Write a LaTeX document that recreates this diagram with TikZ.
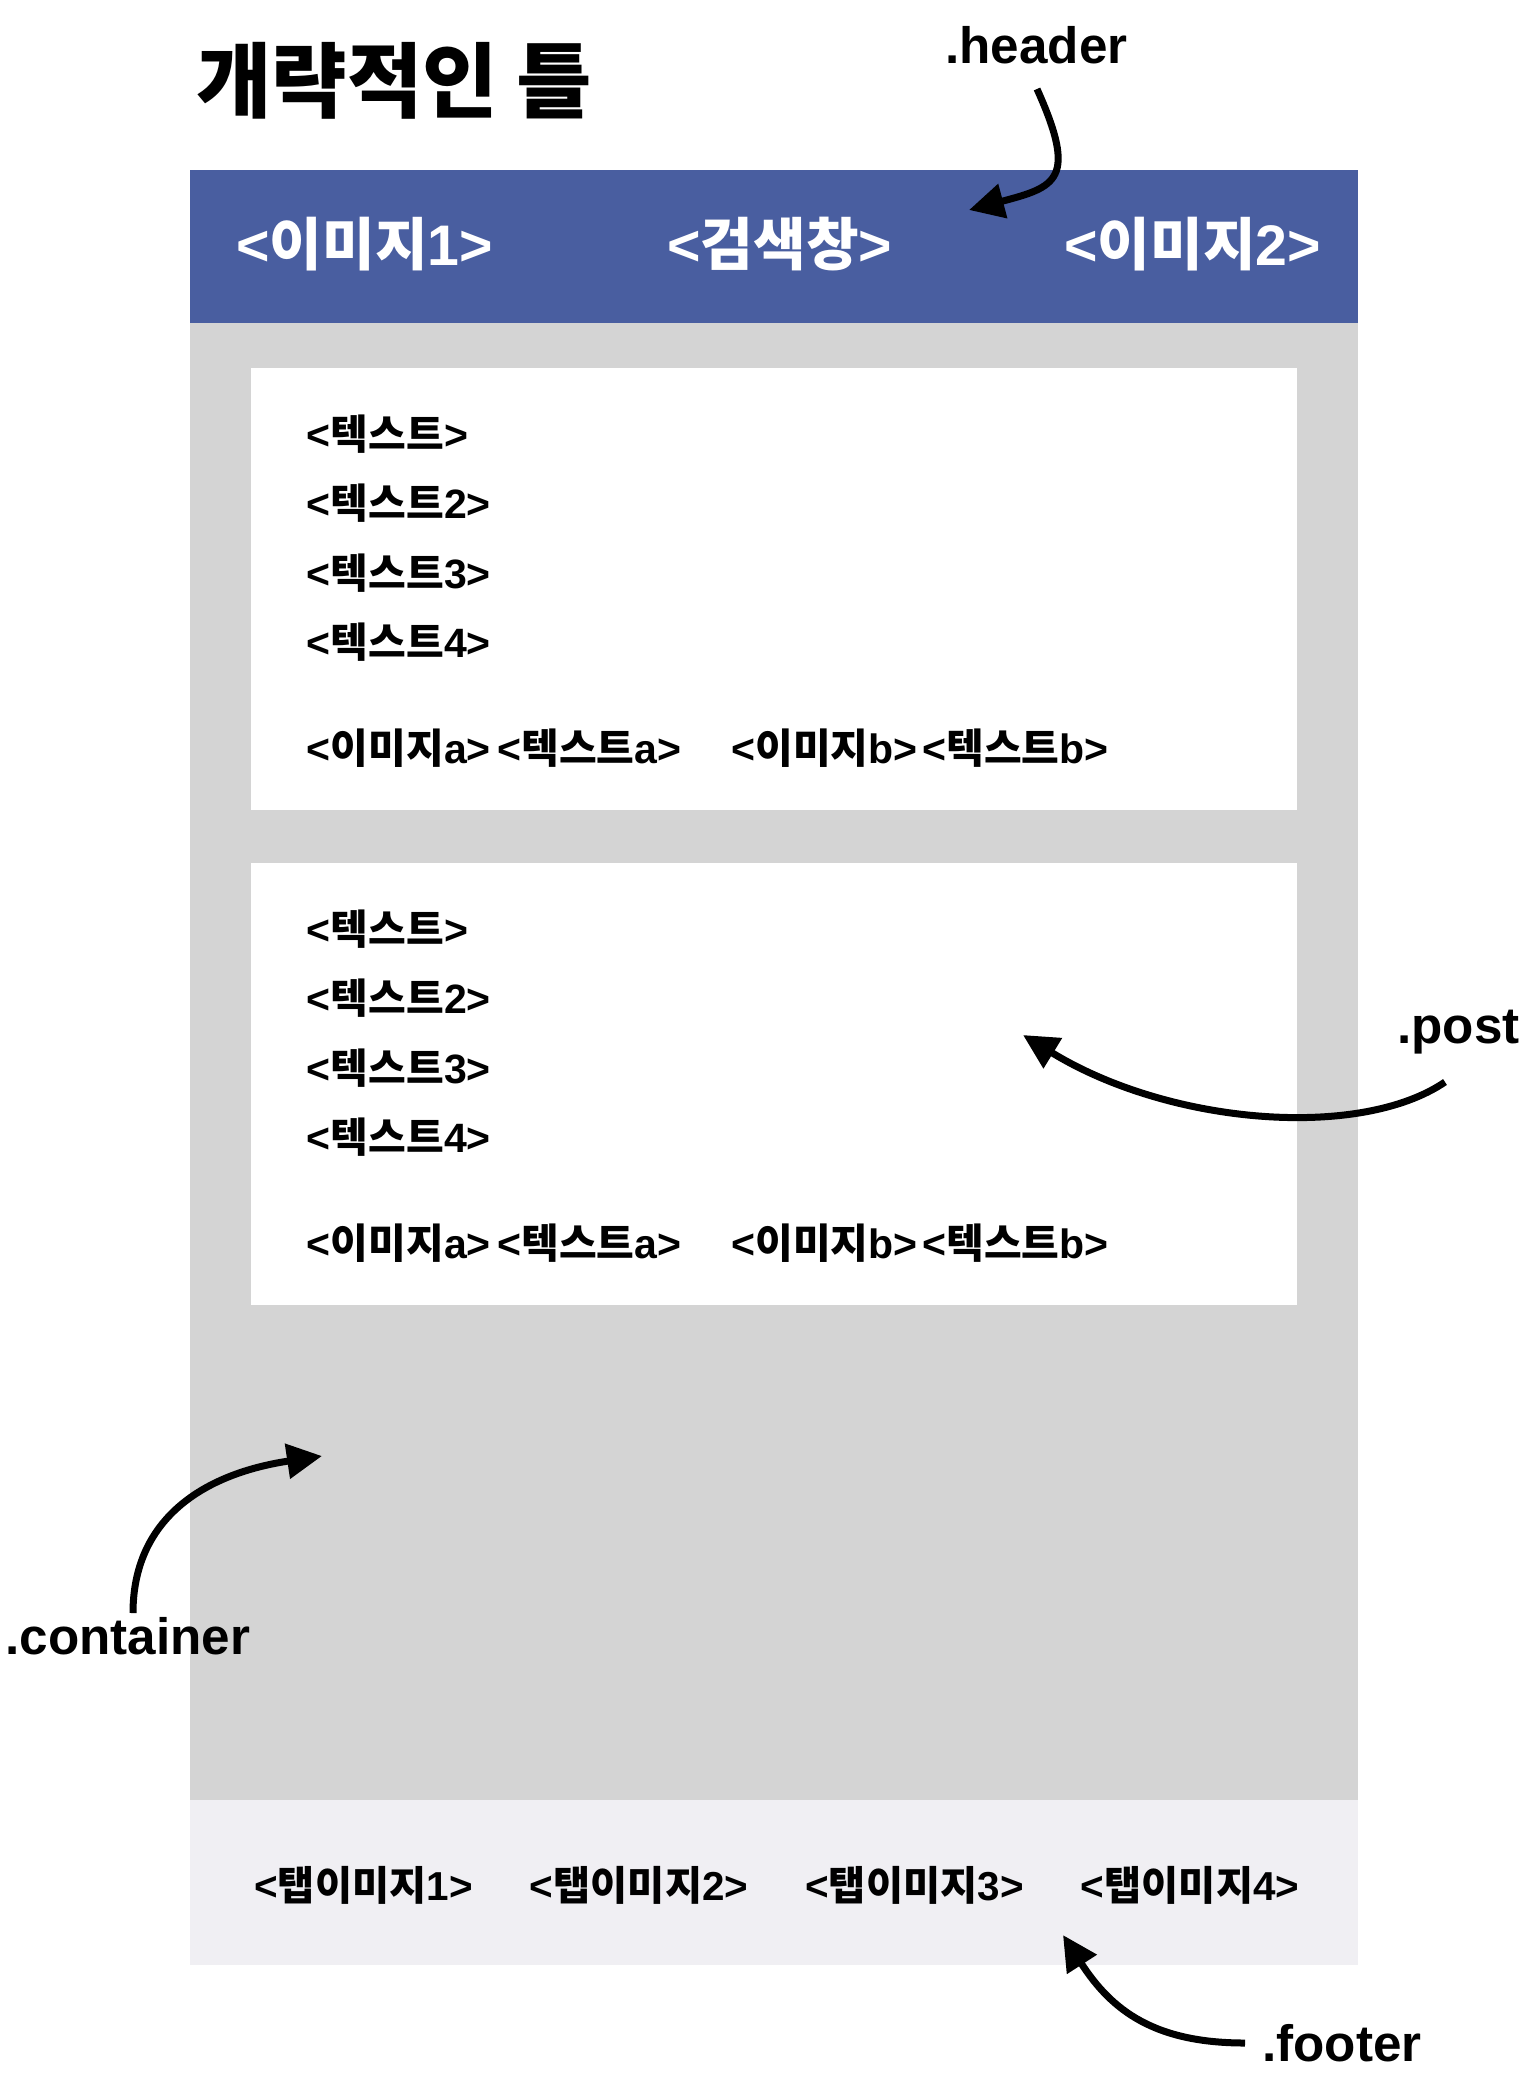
\documentclass[tikz,border=0pt]{standalone}
\usepackage{fontspec}
\setmainfont{Liberation Sans}
\newfontfamily\kr{Noto Sans CJK KR}
\usetikzlibrary{arrows.meta}
\definecolor{hdrblue}{RGB}{73,94,160}
\definecolor{contgray}{RGB}{212,212,212}
\definecolor{footgray}{RGB}{240,239,243}
\newcommand{\K}[1]{{\kr #1}}
\begin{document}
\begin{tikzpicture}[x=0.5pt,y=-0.5pt,
  lbl/.style={anchor=base west, inner sep=0pt, font=\fontsize{25.6pt}{30pt}\selectfont\bfseries},
  titletxt/.style={anchor=base west, inner sep=0pt, font=\fontsize{41pt}{46pt}\selectfont\bfseries},
  hdrtxt/.style={anchor=base west, inner sep=0pt, text=white, font=\fontsize{28.6pt}{32pt}\selectfont\bfseries},
  posttxt/.style={anchor=base west, inner sep=0pt, font=\fontsize{20.5pt}{24pt}\selectfont\bfseries},
  foottxt/.style={anchor=base west, inner sep=0pt, font=\fontsize{20.2pt}{24pt}\selectfont\bfseries},
  conn/.style={line width=3.5pt, -{Triangle[length=17.5pt,width=17pt]}},
]
\path[use as bounding box] (0,0) rectangle (1532,2074);
\fill[white] (0,0) rectangle (1532,2074);

% regions
\fill[contgray] (190,323) rectangle (1358,1800);
\fill[hdrblue] (190,170) rectangle (1358,323);
\fill[footgray] (190,1800) rectangle (1358,1965);
\fill[white] (251,368) rectangle (1297,810);
\fill[white] (251,863) rectangle (1297,1305);

% title
\node[titletxt] (title) at (196,111) {\K{개략적인 틀}};

% header texts
\node[hdrtxt] (img1) at (236,265) {<\K{이미지}1>};
\node[hdrtxt] (search) at (667,265) {<\K{검색창}>};
\node[hdrtxt] (img2) at (1064,265) {<\K{이미지}2>};

% post 1
\node[posttxt] (p1t1) at (306.5,449) {<\K{텍스트}>};
\node[posttxt] (p1t2) at (306.5,518) {<\K{텍스트}2>};
\node[posttxt] (p1t3) at (306.5,588) {<\K{텍스트}3>};
\node[posttxt] (p1t4) at (306.5,657) {<\K{텍스트}4>};
\node[posttxt] (p1ia) at (306.5,763) {<\K{이미지}a>};
\node[posttxt] (p1ta) at (497,763) {<\K{텍스트}a>};
\node[posttxt] (p1ib) at (731,763) {<\K{이미지}b>};
\node[posttxt] (p1tb) at (922,763) {<\K{텍스트}b>};

% post 2
\node[posttxt] (p2t1) at (306.5,944) {<\K{텍스트}>};
\node[posttxt] (p2t2) at (306.5,1013) {<\K{텍스트}2>};
\node[posttxt] (p2t3) at (306.5,1083) {<\K{텍스트}3>};
\node[posttxt] (p2t4) at (306.5,1152) {<\K{텍스트}4>};
\node[posttxt] (p2ia) at (306.5,1258) {<\K{이미지}a>};
\node[posttxt] (p2ta) at (497,1258) {<\K{텍스트}a>};
\node[posttxt] (p2ib) at (731,1258) {<\K{이미지}b>};
\node[posttxt] (p2tb) at (922,1258) {<\K{텍스트}b>};

% footer
\node[foottxt] (tab1) at (254,1900) {<\K{탭이미지}1>};
\node[foottxt] (tab2) at (529.5,1900) {<\K{탭이미지}2>};
\node[foottxt] (tab3) at (805,1900) {<\K{탭이미지}3>};
\node[foottxt] (tab4) at (1080.5,1900) {<\K{탭이미지}4>};

% labels
\node[lbl] (hdrlbl) at (945,63) {.header};
\node[lbl] (postlbl) at (1397,1043) {.post};
\node[lbl] (contlbl) at (5,1654) {.container};
\node[lbl] (footlbl) at (1262,2061) {.footer};

% connectors
\coordinate (hs) at (1037,89);
\coordinate (he) at (969,210);
\draw[conn] (hs) .. controls (1078,180) and (1056,187) .. (he);
\coordinate (ps) at (1445,1082);
\coordinate (pe) at (1023,1035);
\draw[conn] (ps) .. controls (1360,1140) and (1170,1125) .. (pe);
\coordinate (cs) at (133,1613);
\coordinate (ce) at (322,1456);
\draw[conn] (cs) .. controls (133,1520) and (202,1474) .. (ce);
\coordinate (fs) at (1245,2043);
\coordinate (fe) at (1063,1935);
\draw[conn] (fs) .. controls (1155,2043) and (1112,2011) .. (fe);
\end{tikzpicture}
\end{document}
